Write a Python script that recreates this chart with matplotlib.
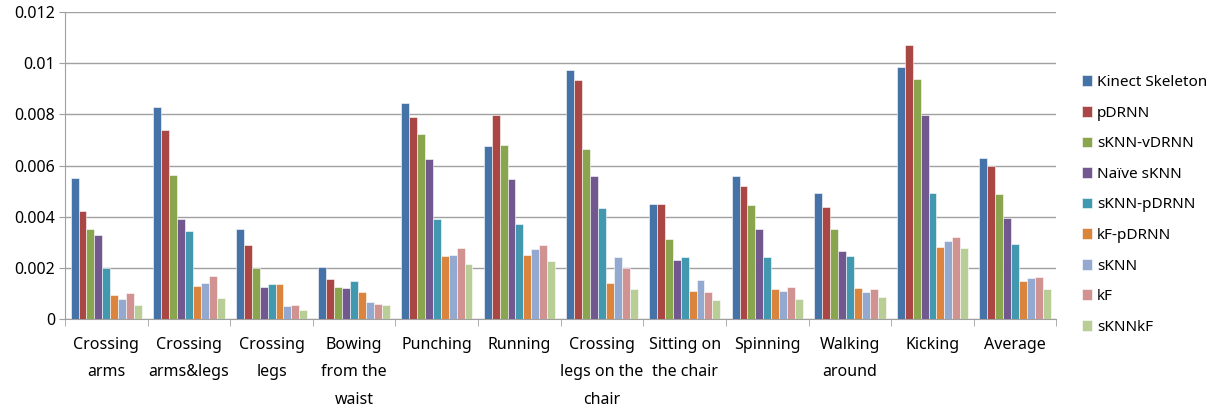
import numpy as np
import matplotlib
matplotlib.use("Agg")
import matplotlib.pyplot as plt
from matplotlib.ticker import FuncFormatter

plt.rcParams['font.family'] = ['Noto Sans', 'DejaVu Sans']

# categories (x axis)
actions = ["Crossing\narms", "Crossing\narms&legs", "Crossing\nlegs", "Bowing\nfrom the\nwaist",
           "Punching", "Running", "Crossing\nlegs on the\nchair", "Sitting on\nthe chair",
           "Spinning", "Walking\naround", "Kicking", "Average"]

# one list per method
kinect = [0.00551, 0.0083, 0.00351, 0.00203, 0.00846, 0.00676, 0.00974, 0.00448, 0.00558, 0.00492, 0.00986, 0.00629]
pdrnn = [0.00424, 0.00739, 0.00289, 0.00156, 0.00791, 0.00798, 0.00935, 0.00448, 0.00518, 0.00439, 0.0107, 0.0060]
sknn_vdrnn = [0.00351, 0.00563, 0.0020, 0.00126, 0.00724, 0.00681, 0.00666, 0.00312, 0.00445, 0.00351, 0.00937, 0.00488]
naive_sknn = [0.00328, 0.0039, 0.00125, 0.00123, 0.00627, 0.00547, 0.0056, 0.0023, 0.0035, 0.00264, 0.00798, 0.00396]
sknn_pdrnn = [0.0020, 0.00345, 0.00137, 0.00147, 0.00392, 0.00372, 0.00435, 0.00243, 0.00243, 0.00246, 0.00492, 0.00295]
kf_pdrnn = [0.00095, 0.0013, 0.00137, 0.00107, 0.00246, 0.0025, 0.00142, 0.00108, 0.00116, 0.00121, 0.00281, 0.00148]
sknn = [0.0008, 0.0014, 0.00049, 0.00065, 0.0025, 0.00272, 0.00241, 0.00153, 0.0011, 0.00104, 0.00303, 0.00161]
kf = [0.00102, 0.00169, 0.00056, 0.00057, 0.00278, 0.00289, 0.00199, 0.00105, 0.00126, 0.00117, 0.0032, 0.00165]
sknn_kf = [0.00056, 0.00082, 0.00034, 0.00056, 0.00216, 0.00225, 0.00116, 0.00075, 0.00077, 0.00086, 0.00277, 0.00118]

series = [kinect, pdrnn, sknn_vdrnn, naive_sknn, sknn_pdrnn, kf_pdrnn, sknn, kf, sknn_kf]
names = ["Kinect Skeleton", "pDRNN", "sKNN-vDRNN", "Naïve sKNN", "sKNN-pDRNN",
         "kF-pDRNN", "sKNN", "kF", "sKNNkF"]
colors = ["#4572A7", "#AA4643", "#89A54E", "#71588F", "#4198AF",
          "#DB843D", "#93A9CF", "#D19392", "#B9CD96"]

fig = plt.figure(figsize=(12.15, 4.09), dpi=100)
ax = fig.add_axes([0.0535, 0.22, 0.816, 0.7507])

x = np.arange(len(actions))
w = 0.096
for i, (vals, name, c) in enumerate(zip(series, names, colors)):
    ax.bar(x + (i - 4) * w, vals, w, color=c, edgecolor="white", linewidth=0.4, label=name, zorder=3)

ax.set_xlim(-0.5, len(actions) - 0.5)
ax.set_ylim(0, 0.012)
ax.set_yticks(np.arange(0, 0.0121, 0.002))
ax.yaxis.set_major_formatter(FuncFormatter(lambda v, p: f"{v:g}"))
ax.grid(axis="y", color="#a0a0a0", linewidth=1.0, zorder=0)

ax.set_xticks(x)
ax.set_xticklabels(actions, fontsize=11.5, linespacing=1.95, va="top")
ax.set_xticks(np.arange(-0.5, len(actions)), minor=True)
ax.tick_params(axis="x", which="major", length=0, pad=13)
ax.tick_params(axis="x", which="minor", length=5, color="#a0a0a0")
ax.tick_params(axis="y", length=4, color="#a0a0a0", labelsize=11.5, pad=3)

for s in ["top", "right"]:
    ax.spines[s].set_visible(False)
for s in ["left", "bottom"]:
    ax.spines[s].set_color("#a0a0a0")

fig.legend(loc="center left", bbox_to_anchor=(0.879, 0.499), frameon=False, fontsize=11,
           handlelength=0.7, handleheight=0.7, handletextpad=0.3, labelspacing=1.02)

fig.savefig("out.png", dpi=100)
